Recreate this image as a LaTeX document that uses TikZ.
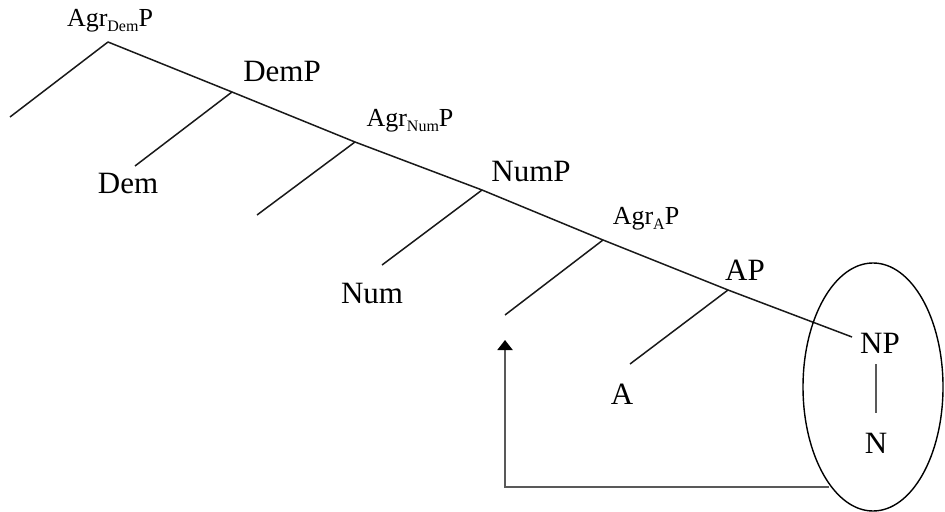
\documentclass[tikz,border=0pt]{standalone}
\usepackage{fontspec}
\setmainfont{Liberation Serif}
\usetikzlibrary{arrows.meta,shapes.geometric}
\newcommand{\agrlab}[1]{Agr\raisebox{-0.4ex}{\fontsize{8}{8}\selectfont #1}P}

\begin{document}
\begin{tikzpicture}[x=0.5pt,y=-0.5pt,>={Triangle[width=7.5pt,length=5pt,black]},
  lbl/.style={font=\fontsize{15.5}{16}\selectfont,anchor=base,inner sep=0pt},
  agrlbl/.style={font=\fontsize{13}{14}\selectfont,anchor=base,inner sep=0pt},
  branch/.style={line width=0.75pt,black!90},
  stem/.style={line width=0.85pt,black!65},
  move/.style={line width=1pt,black!65}]
\useasboundingbox (0,0) rectangle (945,512);
% spine
\coordinate (agrdem) at (108,42);
\coordinate (dem) at (232,92);
\coordinate (agrnum) at (355,142);
\coordinate (num) at (482,190);
\coordinate (agra) at (603,240);
\coordinate (ap) at (728,290);
\coordinate (np) at (852,337);
% left daughters
\coordinate (agrdemspec) at (10,117);
\coordinate (demhead) at (135,166);
\coordinate (agrnumspec) at (257,215);
\coordinate (numhead) at (382,265);
\coordinate (agraspec) at (505,315);
\coordinate (ahead) at (630,364);
\draw[branch] (agrdem) -- (dem) -- (agrnum) -- (num) -- (agra) -- (ap) -- (np);
\draw[branch] (agrdem) -- (agrdemspec);
\draw[branch] (dem) -- (demhead);
\draw[branch] (agrnum) -- (agrnumspec);
\draw[branch] (num) -- (numhead);
\draw[branch] (agra) -- (agraspec);
\draw[branch] (ap) -- (ahead);
% labels
\node[agrlbl] (agrdemlbl) at (110,27) {\agrlab{Dem}};
\node[lbl] (demplbl) at (282,82) {DemP};
\node[lbl] (demlbl) at (128,194) {Dem};
\node[agrlbl] (agrnumlbl) at (410,127) {\agrlab{Num}};
\node[lbl] (numplbl) at (531,182) {NumP};
\node[lbl] (numlbl) at (372,304) {Num};
\node[agrlbl] (agralbl) at (646,225) {\agrlab{A}};
\node[lbl] (aplbl) at (745,281) {AP};
\node[lbl] (albl) at (622,404) {A};
\node[lbl] (nplbl) at (880,353) {NP};
\node[lbl] (nlbl) at (876,453) {N};
\draw[stem,shorten <=5.5pt,shorten >=9.5pt] (nplbl.south -| nlbl.north) -- (nlbl.north);
% movement
\node[draw,ellipse,line width=0.7pt,inner sep=0pt,minimum width=70pt,minimum height=124pt] (ring) at (873,387) {};
\coordinate (tail) at (829,487);
\coordinate (gap) at (505,340);
\draw[->,move] (tail) -| (gap);
\end{tikzpicture}
\end{document}
